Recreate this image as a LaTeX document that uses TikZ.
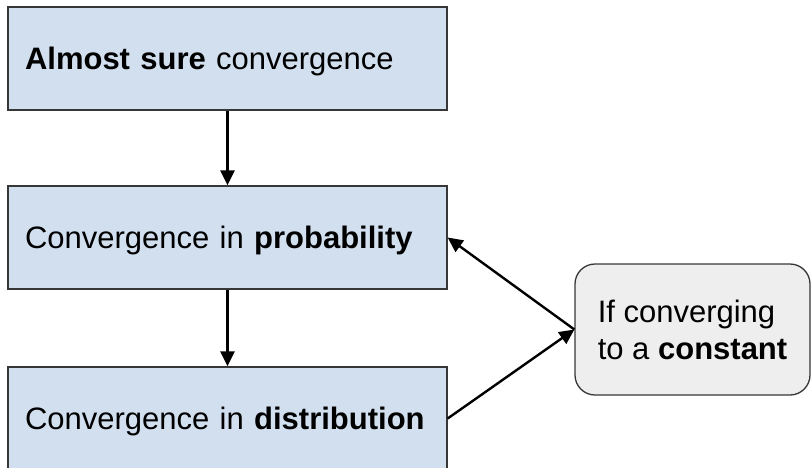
\documentclass[tikz,border=0pt]{standalone}
\usepackage{fontspec}
\setmainfont{Liberation Sans}
\usetikzlibrary{arrows.meta}
\definecolor{boxblue}{RGB}{210,223,239}
\definecolor{boxgray}{RGB}{238,238,238}
\definecolor{edgegray}{RGB}{55,55,55}
\tikzset{
  x=1pt, y=-1pt,
  modebox/.style={draw=edgegray, line width=1.3pt, fill=boxblue,
    minimum width=439pt, minimum height=103pt, text width=405pt,
    inner xsep=17pt, inner ysep=0pt, align=left,
    text height=22pt, text depth=0pt,
    font=\fontsize{31}{37}\selectfont},
  notebox/.style={draw=edgegray, line width=1.3pt, fill=boxgray,
    rounded corners=20pt, minimum width=235pt, minimum height=131pt,
    align=left, font=\fontsize{31}{37}\selectfont},
  implies/.style={line width=2.4pt, -{Triangle[length=15pt,width=14pt]}}
}
\begin{document}
\begin{tikzpicture}
  \useasboundingbox (0,0) rectangle (811,467);
  \clip (0,0) rectangle (811,467);
  \node[modebox] (as) at (227.5,58.5) {\textbf{Almost sure} convergence};
  \node[modebox] (prob) at (227.5,237.5) {Convergence in \textbf{probability}};
  \node[modebox] (dist) at (227.5,418.5) {Convergence in \textbf{distribution}};
  \node[notebox] (const) at (692.5,329.5) {If converging\\to a \textbf{constant}};
  \draw[implies] (as) -- (prob);
  \draw[implies] (prob) -- (dist);
  \draw[implies] (const.west) -- (prob.east);
  \draw[implies] (dist.east) -- (const.west);
\end{tikzpicture}
\end{document}
